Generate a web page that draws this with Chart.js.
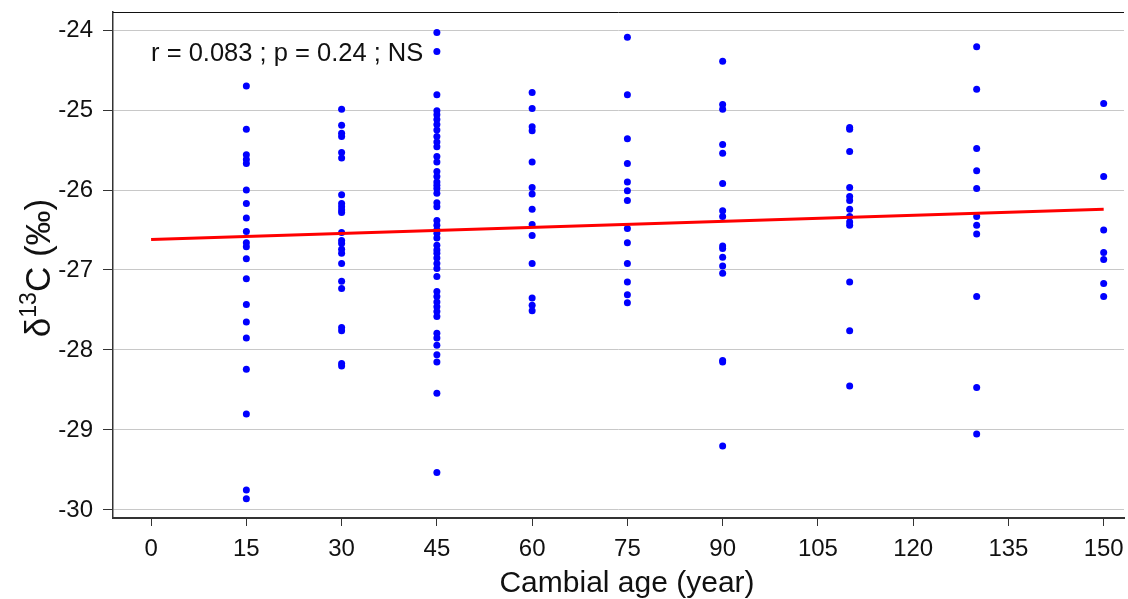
<!DOCTYPE html>
<html>
<head>
<meta charset="utf-8">
<script src="https://cdn.jsdelivr.net/npm/chart.js@4"></script>
<style>
  html, body { margin: 0; padding: 0; background: #fff; }
  #wrap { width: 1128px; height: 599px; }
</style>
</head>
<body>
<div id="wrap"><canvas id="d13cChart"></canvas></div>
<script>
// cambial age groups and d13C values
var ages = [15, 30, 45, 60, 75, 90, 110, 130, 150];
var age15 = [-24.70,-25.24,-25.56,-25.62,-25.67,-26.00,-26.17,-26.35,-26.52,-26.66,-26.71,-26.86,-27.11,-27.43,-27.65,-27.85,-28.24,-28.80,-29.75,-29.86];
var age30 = [-24.99,-25.19,-25.29,-25.33,-25.53,-25.60,-26.06,-26.17,-26.21,-26.25,-26.28,-26.53,-26.63,-26.67,-26.74,-26.79,-26.92,-27.14,-27.23,-27.72,-27.76,-28.17,-28.20];
var age45 = [-24.03,-24.27,-24.81,-25.01,-25.06,-25.12,-25.18,-25.25,-25.33,-25.40,-25.46,-25.58,-25.65,-25.77,-25.83,-25.90,-25.94,-25.98,-26.04,-26.16,-26.21,-26.38,-26.44,-26.50,-26.54,-26.60,-26.69,-26.75,-26.79,-26.85,-26.92,-26.98,-27.08,-27.27,-27.33,-27.40,-27.46,-27.52,-27.58,-27.79,-27.85,-27.94,-28.06,-28.15,-28.54,-29.53];
var age60 = [-24.78,-24.98,-25.21,-25.26,-25.65,-25.97,-26.05,-26.24,-26.43,-26.57,-26.92,-27.35,-27.44,-27.51];
var age75 = [-24.09,-24.81,-25.36,-25.67,-25.90,-26.01,-26.13,-26.48,-26.66,-26.92,-27.15,-27.31,-27.41];
var age90 = [-24.39,-24.93,-24.99,-25.43,-25.54,-25.92,-26.26,-26.33,-26.70,-26.73,-26.84,-26.95,-27.04,-28.13,-28.15,-29.20];
var age110 = [-25.22,-25.24,-25.52,-25.97,-26.08,-26.13,-26.24,-26.33,-26.40,-26.44,-27.15,-27.76,-28.45];
var age130 = [-24.21,-24.74,-25.48,-25.76,-25.98,-26.33,-26.44,-26.55,-27.33,-28.47,-29.05];
var age150 = [-24.92,-25.83,-26.50,-26.78,-26.87,-27.17,-27.33];

// fitted regression line
var regX = [0, 150];
var regY = [-26.62, -26.24];

var xTicks = [0, 15, 30, 45, 60, 75, 90, 105, 120, 135, 150];
var yTicks = [-30, -29, -28, -27, -26, -25, -24];

var statsText = "r = 0.083 ; p = 0.24 ; NS";
var xTitle = "Cambial age (year)";

var groups = [age15, age30, age45, age60, age75, age90, age110, age130, age150];
var pts = [];
for (var i = 0; i < ages.length; i++) {
  for (var j = 0; j < groups[i].length; j++) {
    pts.push({x: ages[i], y: groups[i][j]});
  }
}
var regPts = regX.map(function(x, k) { return {x: x, y: regY[k]}; });

var FONT = "'Liberation Sans', Arial, sans-serif";

// top border, stats text and axis titles (y title needs a real superscript)
var extras = {
  id: 'extras',
  afterDraw: function(chart) {
    var ctx = chart.ctx, a = chart.chartArea;
    ctx.save();
    ctx.strokeStyle = '#111';
    ctx.lineWidth = 1;
    ctx.beginPath();
    ctx.moveTo(a.left, a.top + 0.5);
    ctx.lineTo(a.right, a.top + 0.5);
    ctx.stroke();

    ctx.fillStyle = '#111';
    ctx.textBaseline = 'middle';
    ctx.textAlign = 'left';
    ctx.font = '25.5px ' + FONT;
    ctx.fillText(statsText, chart.scales.x.getPixelForValue(0), chart.scales.y.getPixelForValue(-24.3));

    // x title
    ctx.textAlign = 'center';
    ctx.font = '30px ' + FONT;
    ctx.fillText(xTitle, 627, 584);

    // y title
    var big = '35px ' + FONT, small = '23px ' + FONT;
    ctx.translate(38, 268);
    ctx.rotate(-Math.PI / 2);
    ctx.textAlign = 'left';
    ctx.textBaseline = 'alphabetic';
    ctx.font = big;
    var w1 = ctx.measureText('δ').width, w3 = ctx.measureText('C (‰)').width;
    ctx.font = small;
    var w2 = ctx.measureText('13').width;
    var x0 = -(w1 + w2 + w3) / 2, base = 12;
    ctx.font = big;
    ctx.fillText('δ', x0, base);
    ctx.font = small;
    ctx.fillText('13', x0 + w1, base - 14);
    ctx.font = big;
    ctx.fillText('C (‰)', x0 + w1 + w2, base);
    ctx.restore();
  }
};

new Chart("d13cChart", {
  type: 'scatter',
  data: {
    datasets: [
      {
        data: regPts,
        showLine: true,
        borderColor: '#ff0000',
        borderWidth: 3,
        pointRadius: 0,
        fill: false
      },
      {
        data: pts,
        backgroundColor: '#0000ff',
        borderWidth: 0,
        pointRadius: 3.5
      }
    ]
  },
  options: {
    responsive: true,
    maintainAspectRatio: false,
    animation: false,
    layout: { padding: { top: 12, right: 0, left: 0, bottom: 0 } },
    plugins: {
      legend: { display: false },
      tooltip: { enabled: false }
    },
    scales: {
      x: {
        type: 'linear',
        min: -6,
        max: 153.2,
        afterBuildTicks: function(s) { s.ticks = xTicks.map(function(v) { return {value: v}; }); },
        afterFit: function(s) { s.height = 81; s.paddingLeft = 0; s.paddingRight = 0; },
        grid: { drawOnChartArea: false, drawTicks: true, tickLength: 8, tickColor: '#333', tickWidth: 1 },
        border: { display: true, color: '#333', width: 2 },
        ticks: { color: '#111', font: { family: FONT, size: 24 }, padding: 9, maxRotation: 0, autoSkip: false }
      },
      y: {
        type: 'linear',
        min: -30.1,
        max: -23.775,
        afterBuildTicks: function(s) { s.ticks = yTicks.map(function(v) { return {value: v}; }); },
        afterFit: function(s) { s.width = 113; s.paddingTop = 0; s.paddingBottom = 0; s.paddingLeft = 0; s.paddingRight = 0; },
        grid: { color: '#c8c8c8', lineWidth: 1, drawTicks: true, tickLength: 10, tickColor: '#333', tickWidth: 1 },
        border: { display: true, color: '#333', width: 1.5 },
        ticks: { color: '#111', font: { family: FONT, size: 24 }, padding: 10 }
      }
    }
  },
  plugins: [extras]
});
</script>
</body>
</html>
